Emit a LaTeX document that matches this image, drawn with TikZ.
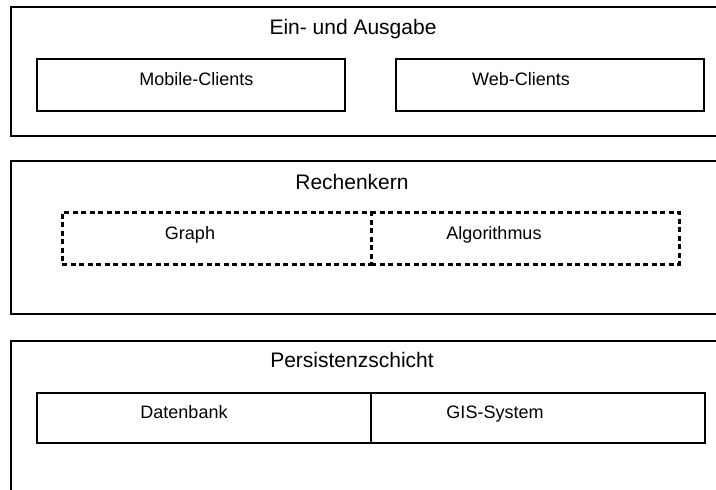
\documentclass[tikz,border=0pt]{standalone}
\usepackage{fontspec}
\setmainfont{Liberation Sans}
\begin{document}
\begin{tikzpicture}[x=1pt,y=-1pt,
  every node/.style={outer sep=0pt},
  layer/.style={draw=black, line width=2.5pt, rectangle, anchor=north west, inner sep=0pt},
  part/.style={draw=black, line width=2.8pt, rectangle, anchor=north west, inner sep=0pt},
  dashline/.style={draw=black, line width=3pt, dash pattern=on 5pt off 3.5pt},
  dashpart/.style={dashline, rectangle, anchor=north west, inner sep=0pt},
  openpart/.style={rectangle, anchor=north west, inner sep=0pt},
  title/.style={anchor=base, inner sep=0pt, font=\fontsize{21}{25}\selectfont},
  lbl/.style={anchor=base, inner sep=0pt, font=\fontsize{18}{22}\selectfont}]
\useasboundingbox (0,0) rectangle (716,490);
\clip (0,0) rectangle (716,490);
\fill[white] (0,0) rectangle (716,490);

% Ein- und Ausgabe
\node[layer, minimum width=729pt, minimum height=129pt] (io) at (11,7) {};
\node[title] (iot) at (353,34) {Ein- und Ausgabe};
\node[part, minimum width=308pt, minimum height=52pt] (mobile) at (37,59) {};
\node[lbl] (mobilet) at (196.5,85) {Mobile-Clients};
\node[part, minimum width=308pt, minimum height=52pt] (web) at (396,59) {};
\node[lbl] (webt) at (521,85) {Web-Clients};

% Rechenkern
\node[layer, minimum width=729pt, minimum height=153pt] (core) at (11,161) {};
\node[title] (coret) at (352,189) {Rechenkern};
\node[dashpart, minimum width=309pt, minimum height=52pt] (graph) at (62,212) {};
\node[lbl] (grapht) at (190,239) {Graph};
% shares its left edge with the graph box, so only three sides are drawn
\node[openpart, minimum width=308pt, minimum height=52pt] (algo) at (371,212) {};
\draw[dashline] (algo.north west) -- (algo.north east) -- (algo.south east) -- (algo.south west);
\node[lbl] (algot) at (494,239) {Algorithmus};

% Persistenzschicht
\node[layer, minimum width=729pt, minimum height=180pt] (pers) at (11,341) {};
\node[title] (perst) at (352,367) {Persistenzschicht};
\node[part, minimum width=334pt, minimum height=50pt] (db) at (37,393) {};
\node[lbl] (dbt) at (184,418) {Datenbank};
\node[part, minimum width=334pt, minimum height=50pt] (gis) at (371,393) {};
\node[lbl] (gist) at (495,418) {GIS-System};
\end{tikzpicture}
\end{document}
